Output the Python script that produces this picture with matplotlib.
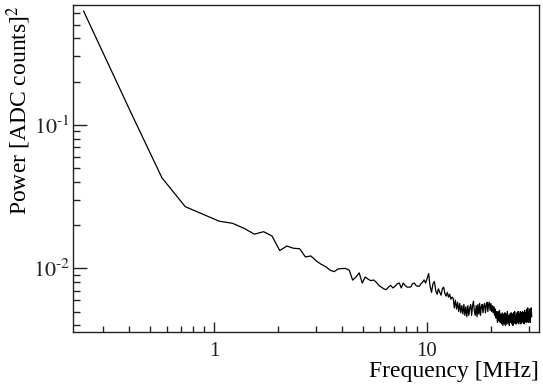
import numpy as np
import matplotlib
matplotlib.use("Agg")
import matplotlib.pyplot as plt
from matplotlib.ticker import LogLocator, FixedLocator, FixedFormatter, NullFormatter

plt.rcParams['font.family'] = ['Liberation Serif', 'DejaVu Serif']
plt.rcParams['mathtext.fontset'] = 'stix'

# FFT bin width in MHz, bins 1..190 (bin centres)
bin_width = 0.163
bins = np.arange(1, 191)

power = [
    0.62, 0.122, 0.0427, 0.0269, 0.0237, 0.0213, 0.0206, 0.0190, 0.0173, 0.0180,
    0.0168, 0.0133, 0.0143, 0.0138, 0.0137, 0.0120, 0.0122, 0.0113, 0.0107, 0.0103,
    0.00972, 0.00948, 0.00990, 0.00997, 0.00997, 0.0097, 0.00828, 0.0087, 0.0093, 0.0079,
    0.0087, 0.0084, 0.0082, 0.0083, 0.0080, 0.0076, 0.0074, 0.0072, 0.0071, 0.0074,
    0.0076, 0.0073, 0.0075, 0.0078, 0.0079, 0.0073, 0.0079, 0.0076, 0.0074, 0.0074,
    0.0074, 0.0078, 0.0079, 0.0076, 0.0075, 0.0075, 0.0078, 0.0080, 0.0083, 0.0079,
    0.0085, 0.0092, 0.0075, 0.0068, 0.0078, 0.0081, 0.0070, 0.0066, 0.0072, 0.0068,
    0.0065, 0.0072, 0.0074, 0.0067, 0.0064, 0.0068, 0.0063, 0.0066, 0.0061, 0.0063,
    0.0062, 0.0053, 0.0060, 0.0052, 0.0058, 0.0050, 0.0057, 0.0049, 0.0055, 0.0048,
    0.0056, 0.0047, 0.0054, 0.0046, 0.0055, 0.0047, 0.0053, 0.0056, 0.0047, 0.0055,
    0.0059, 0.0050, 0.0047, 0.0055, 0.0046, 0.0056, 0.0048, 0.0057, 0.0047, 0.0054,
    0.0056, 0.0049, 0.0055, 0.0057, 0.0049, 0.0055, 0.0058, 0.0050, 0.0056, 0.0058,
    0.0051, 0.0057, 0.0050, 0.0055, 0.0049, 0.0054, 0.0047, 0.0052, 0.0045, 0.0050,
    0.0042, 0.0050, 0.0043, 0.0051, 0.0042, 0.0048, 0.0041, 0.0049, 0.0040, 0.0048,
    0.0041, 0.0049, 0.0040, 0.0048, 0.0041, 0.0050, 0.0042, 0.0047, 0.0040, 0.0048,
    0.0042, 0.0049, 0.0041, 0.0048, 0.0040, 0.0049, 0.0042, 0.0050, 0.0041, 0.0047,
    0.0041, 0.0049, 0.0042, 0.0050, 0.0041, 0.0048, 0.0043, 0.0050, 0.0041, 0.0049,
    0.0042, 0.0050, 0.0043, 0.0049, 0.0041, 0.0051, 0.0043, 0.0049, 0.0042, 0.0052,
    0.0043, 0.0053, 0.0042, 0.0050, 0.0043, 0.0052, 0.0042, 0.0050, 0.0053, 0.0046,
]

freq = (bins + 0.5) * bin_width

x_ticks = [1, 10]
x_tick_labels = ["1", "10"]
y_ticks = [0.01, 0.1]
y_tick_labels = [r"$10^{\text{-}2}$", r"$10^{\text{-}1}$"]

fig = plt.figure(figsize=(5.43, 3.85), dpi=100)
ax = fig.add_axes([73 / 543, 1 - 332 / 385, (539 - 73) / 543, (332 - 5) / 385])

ax.plot(freq, power, color="black", lw=0.9)
ax.set_xscale("log")
ax.set_yscale("log")
ax.set_xlim(0.218, 33.6)
ax.set_ylim(0.0036, 0.684)

ax.xaxis.set_major_locator(FixedLocator(x_ticks))
ax.xaxis.set_major_formatter(FixedFormatter(x_tick_labels))
ax.xaxis.set_minor_locator(LogLocator(base=10, subs=np.arange(2, 10)))
ax.xaxis.set_minor_formatter(NullFormatter())
ax.yaxis.set_major_locator(FixedLocator(y_ticks))
ax.yaxis.set_major_formatter(FixedFormatter(y_tick_labels))
ax.yaxis.set_minor_locator(LogLocator(base=10, subs=np.arange(2, 10)))
ax.yaxis.set_minor_formatter(NullFormatter())

ax.tick_params(which="both", direction="in", top=False, right=False, width=1.0, colors="#222222")
ax.tick_params(axis="x", which="major", length=7.5, pad=7, labelsize=15)
ax.tick_params(axis="x", which="minor", length=4.5)
ax.tick_params(axis="y", which="major", length=10, pad=2, labelsize=16)
ax.tick_params(axis="y", which="minor", length=5)
for s in ax.spines.values():
    s.set_linewidth(1.0)
    s.set_color("#222222")

ax.set_xlabel("Frequency [MHz]", fontsize=17, loc="right", labelpad=0)
ax.set_ylabel("Power [ADC counts]$^2$", fontsize=17, loc="top", labelpad=0)

fig.savefig("out.png", dpi=100)
